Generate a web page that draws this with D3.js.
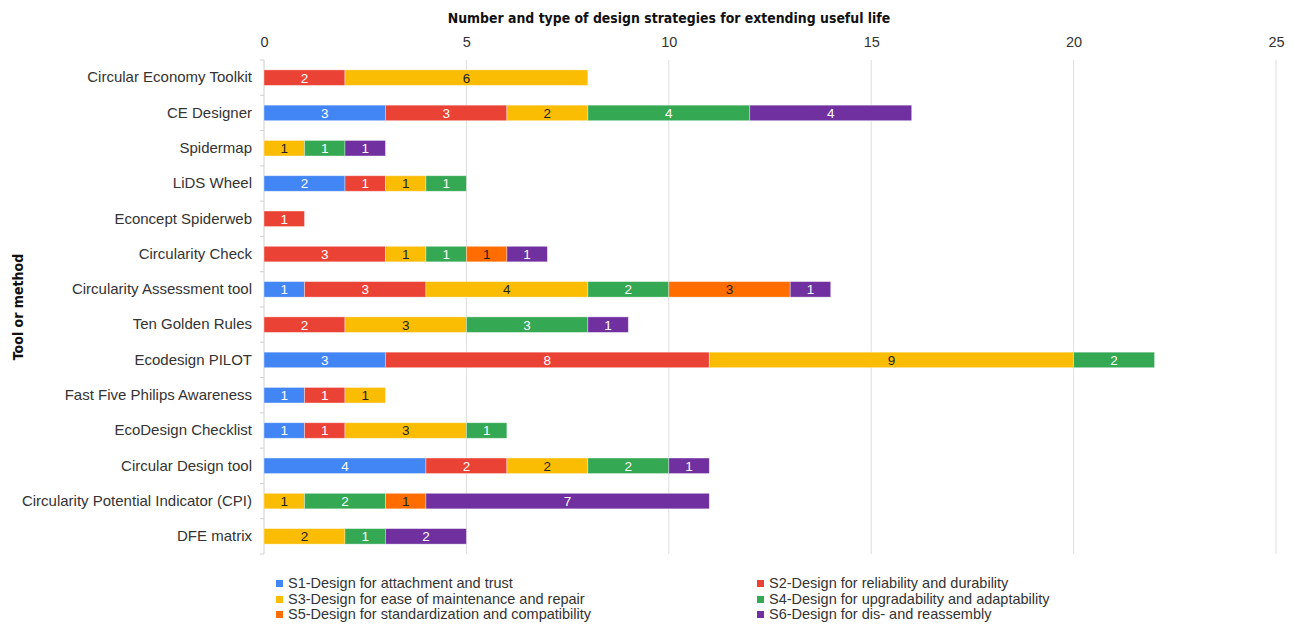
<!DOCTYPE html>
<html>
<head>
<meta charset="utf-8">
<script src="https://cdn.jsdelivr.net/npm/d3@7"></script>
<style>
  html, body { margin: 0; padding: 0; background: #fff; }
  svg { display: block; }
  .lbl { font-family: "Liberation Sans", Arial, sans-serif; }
  .boldt { font-family: "DejaVu Sans Condensed", "DejaVu Sans", sans-serif; font-weight: bold; }
</style>
</head>
<body>
<svg id="chart" width="1295" height="625"></svg>
<script>
// Tools / methods (top to bottom)
const categories = [
  "Circular Economy Toolkit",
  "CE Designer",
  "Spidermap",
  "LiDS Wheel",
  "Econcept Spiderweb",
  "Circularity Check",
  "Circularity Assessment tool",
  "Ten Golden Rules",
  "Ecodesign PILOT",
  "Fast Five Philips Awareness",
  "EcoDesign Checklist",
  "Circular Design tool",
  "Circularity Potential Indicator (CPI)",
  "DFE matrix"
];

// Design strategy series
const seriesNames = [
  "S1-Design for attachment and trust",
  "S2-Design for reliability and durability",
  "S3-Design for ease of maintenance and repair",
  "S4-Design for upgradability and adaptability",
  "S5-Design for standardization and compatibility",
  "S6-Design for dis- and reassembly"
];

// Number of strategies per tool, one array per series (same order as categories)
const S1 = [0, 3, 0, 2, 0, 0, 1, 0, 3, 1, 1, 4, 0, 0];
const S2 = [2, 3, 0, 1, 1, 3, 3, 2, 8, 1, 1, 2, 0, 0];
const S3 = [6, 2, 1, 1, 0, 1, 4, 3, 9, 1, 3, 2, 1, 2];
const S4 = [0, 4, 1, 1, 0, 1, 2, 3, 2, 0, 1, 2, 2, 1];
const S5 = [0, 0, 0, 0, 0, 1, 3, 0, 0, 0, 0, 0, 1, 0];
const S6 = [0, 4, 1, 0, 0, 1, 1, 1, 0, 0, 0, 1, 7, 2];

const xTicks = [0, 5, 10, 15, 20, 25];

const colors = ["#4285F4", "#EA4335", "#FBBC04", "#34A853", "#FF6D01", "#7030A0"];
const labelColors = ["#ffffff", "#ffffff", "#222222", "#ffffff", "#222222", "#ffffff"];

const seriesValues = [S1, S2, S3, S4, S5, S6];
const keys = seriesNames.map((_, i) => "s" + i);
const table = categories.map((c, ci) => {
  const row = { category: c };
  keys.forEach((k, si) => row[k] = seriesValues[si][ci]);
  return row;
});

const svg = d3.select("#chart");
const margin = { left: 264, right: 19, top: 60, bottom: 71 };
const W = 1295, H = 625;

const x = d3.scaleLinear().domain([0, 25]).range([margin.left, W - margin.right]);
const y = d3.scaleBand().domain(categories).range([margin.top, H - margin.bottom]).paddingInner(0.56).paddingOuter(0.28);

// vertical grid lines
svg.append("g")
  .selectAll("line")
  .data(xTicks)
  .join("line")
  .attr("x1", d => x(d)).attr("x2", d => x(d))
  .attr("y1", margin.top).attr("y2", H - margin.bottom)
  .attr("stroke", d => d === 0 ? "#cfcfcf" : "#dedede")
  .attr("stroke-width", 1);

// top axis labels
const xAxis = d3.axisTop(x).tickValues(xTicks).tickSize(0).tickPadding(13);
const gx = svg.append("g")
  .attr("transform", `translate(0,${margin.top})`)
  .call(xAxis);
gx.select(".domain").remove();
gx.selectAll("text")
  .attr("class", "lbl")
  .style("font-size", "14.5px")
  .attr("fill", "#333");

// left axis: category labels and small boundary ticks
const step = y.step();
const boundaries = d3.range(categories.length + 1).map(i => margin.top + i * step);
svg.append("g")
  .selectAll("line")
  .data(boundaries)
  .join("line")
  .attr("x1", margin.left - 4).attr("x2", margin.left)
  .attr("y1", d => d).attr("y2", d => d)
  .attr("stroke", "#cfcfcf");

const yAxis = d3.axisLeft(y).tickSize(0).tickPadding(12);
const gy = svg.append("g")
  .attr("transform", `translate(${margin.left},0)`)
  .call(yAxis);
gy.select(".domain").remove();
gy.selectAll("text")
  .attr("class", "lbl")
  .style("font-size", "15px")
  .attr("fill", "#333");

// stacked bars
const stack = d3.stack().keys(keys);
const stacked = stack(table);

const layers = svg.append("g")
  .selectAll("g")
  .data(stacked)
  .join("g")
  .attr("fill", (d, i) => colors[i]);

layers.selectAll("rect")
  .data(d => d.filter(s => s[1] - s[0] > 0))
  .join("rect")
  .attr("x", d => x(d[0]))
  .attr("y", d => y(d.data.category))
  .attr("width", d => x(d[1]) - x(d[0]))
  .attr("height", y.bandwidth())
  .attr("stroke", "rgba(255,255,255,0.45)")
  .attr("stroke-width", 0.8);

// value labels
stacked.forEach((layer, i) => {
  svg.append("g")
    .selectAll("text")
    .data(layer.filter(s => s[1] - s[0] > 0))
    .join("text")
    .attr("class", "lbl")
    .attr("x", d => (x(d[0]) + x(d[1])) / 2)
    .attr("y", d => y(d.data.category) + y.bandwidth() / 2)
    .attr("dy", "0.36em")
    .attr("text-anchor", "middle")
    .style("font-size", "13.5px")
    .attr("fill", labelColors[i])
    .text(d => d[1] - d[0]);
});

// chart title
svg.append("text")
  .attr("class", "boldt")
  .attr("x", 669)
  .attr("y", 23)
  .attr("text-anchor", "middle")
  .style("font-size", "13.9px")
  .attr("fill", "#111")
  .text("Number and type of design strategies for extending useful life");

// y axis title
svg.append("text")
  .attr("class", "boldt")
  .attr("transform", `translate(23,${(margin.top + H - margin.bottom) / 2}) rotate(-90)`)
  .attr("text-anchor", "middle")
  .style("font-size", "14px")
  .attr("fill", "#111")
  .text("Tool or method");

// legend
const legendCols = [276, 757];
const legendRows = [583, 599, 614];
const legend = svg.append("g")
  .selectAll("g")
  .data(seriesNames)
  .join("g")
  .attr("transform", (d, i) => `translate(${legendCols[i % 2]},${legendRows[Math.floor(i / 2)]})`);
legend.append("rect")
  .attr("x", 0).attr("y", -3)
  .attr("width", 7).attr("height", 7)
  .attr("fill", (d, i) => colors[i]);
legend.append("text")
  .attr("class", "lbl")
  .attr("x", 12)
  .attr("y", 0)
  .attr("dy", "0.35em")
  .style("font-size", "14.5px")
  .attr("fill", "#333")
  .text(d => d);
</script>
</body>
</html>
